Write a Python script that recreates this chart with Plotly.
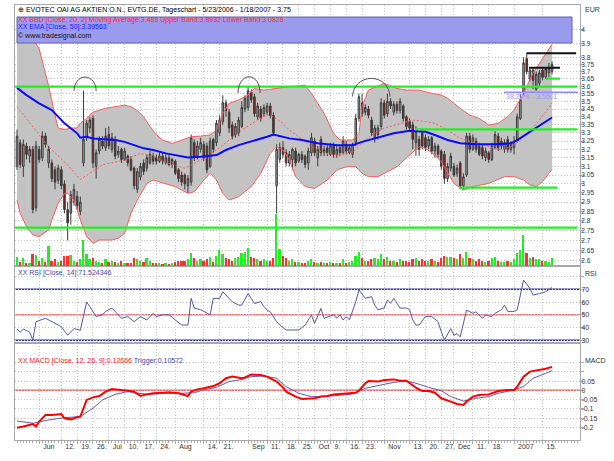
import math
import pandas as pd
import plotly.graph_objects as go

# ---------------- data ----------------
HOLIDAYS = ["2006-12-25", "2006-12-26", "2007-01-01"]
dates = pd.bdate_range("2006-05-23", "2007-01-18", freq="C", holidays=HOLIDAYS)
x_idx = list(range(len(dates)))

open_ = [3.10,3.24,3.10,3.22,3.16,3.20,2.87,3.20,3.15,3.28,
         3.12,3.12,3.08,3.02,3.08,3.00,2.86,2.84,2.90,2.93,
         2.85,3.12,3.27,3.33,3.39,3.10,3.19,3.25,3.21,3.29,
         3.20,3.26,3.17,3.20,3.14,3.16,3.14,3.09,2.97,3.04,
         3.12,3.09,3.12,3.16,3.15,3.13,3.16,3.12,3.15,3.11,
         3.13,3.08,3.05,3.05,2.99,3.01,3.24,3.16,3.20,3.23,
         3.22,3.10,3.26,3.24,3.30,3.37,3.49,3.43,3.35,3.29,
         3.30,3.34,3.45,3.46,3.56,3.53,3.40,3.45,3.42,3.43,
         3.47,3.41,2.99,3.14,3.21,3.18,3.12,3.14,3.19,3.13,
         3.17,3.16,3.12,3.18,3.25,3.15,3.26,3.18,3.21,3.17,
         3.22,3.17,3.21,3.18,3.23,3.18,3.17,3.24,3.39,3.49,
         3.43,3.45,3.38,3.27,3.29,3.34,3.49,3.42,3.50,3.43,
         3.48,3.44,3.47,3.40,3.37,3.35,3.24,3.26,3.30,3.27,
         3.22,3.27,3.19,3.22,3.19,3.17,3.03,3.09,3.10,3.06,
         3.12,2.99,3.05,3.28,3.20,3.25,3.22,3.21,3.15,3.18,
         3.14,3.21,3.28,3.22,3.20,3.26,3.20,3.21,3.25,3.39,
         3.56,3.79,3.65,3.71,3.58,3.62,3.71,3.66,3.69,3.70]
high = [3.32,3.26,3.26,3.24,3.22,3.22,3.25,3.22,3.31,3.30,
        3.22,3.14,3.10,3.11,3.10,3.02,2.90,2.96,3.00,2.96,
        2.93,3.57,3.38,3.40,3.41,3.20,3.28,3.28,3.33,3.34,
        3.30,3.28,3.22,3.21,3.21,3.17,3.16,3.10,3.09,3.12,
        3.14,3.17,3.19,3.18,3.17,3.18,3.18,3.17,3.17,3.15,
        3.14,3.09,3.07,3.06,3.05,3.29,3.26,3.25,3.27,3.25,
        3.24,3.27,3.27,3.38,3.41,3.54,3.51,3.45,3.37,3.36,
        3.40,3.50,3.54,3.60,3.58,3.55,3.49,3.47,3.48,3.49,
        3.49,3.43,3.23,3.24,3.25,3.20,3.19,3.21,3.21,3.18,
        3.19,3.17,3.21,3.30,3.27,3.22,3.28,3.22,3.23,3.24,
        3.24,3.22,3.23,3.28,3.25,3.23,3.24,3.42,3.55,3.55,
        3.48,3.47,3.40,3.35,3.35,3.52,3.51,3.55,3.52,3.50,
        3.50,3.52,3.48,3.41,3.39,3.37,3.34,3.28,3.31,3.29,
        3.28,3.28,3.24,3.23,3.20,3.19,3.12,3.18,3.12,3.11,
        3.13,3.06,3.30,3.30,3.29,3.27,3.24,3.23,3.21,3.19,
        3.24,3.31,3.30,3.27,3.26,3.28,3.25,3.28,3.42,3.55,
        3.80,3.83,3.73,3.73,3.70,3.71,3.73,3.73,3.76,3.77]
low = [3.08,3.09,3.04,3.14,3.12,2.84,2.85,3.12,3.13,3.21,
       3.09,3.01,2.97,3.00,2.97,2.84,2.70,2.78,2.88,2.86,
       2.83,3.10,3.25,3.30,3.09,3.03,3.17,3.20,3.19,3.20,
       3.18,3.14,3.15,3.12,3.13,3.10,3.07,2.97,2.95,3.02,
       3.05,3.07,3.11,3.11,3.11,3.12,3.11,3.11,3.10,3.09,
       3.05,3.01,2.99,2.97,2.95,2.99,3.13,3.14,3.18,3.13,
       3.06,3.09,3.18,3.22,3.28,3.35,3.40,3.30,3.26,3.27,
       3.28,3.33,3.43,3.44,3.49,3.40,3.38,3.37,3.40,3.41,
       3.39,3.28,2.84,3.12,3.15,3.10,3.10,3.08,3.10,3.12,
       3.12,3.09,3.08,3.16,3.16,3.10,3.16,3.16,3.16,3.16,
       3.15,3.15,3.16,3.17,3.17,3.17,3.15,3.22,3.37,3.40,
       3.41,3.39,3.28,3.24,3.26,3.32,3.39,3.40,3.45,3.41,
       3.42,3.42,3.37,3.32,3.31,3.20,3.16,3.16,3.20,3.19,
       3.20,3.17,3.15,3.15,3.08,3.00,3.01,3.07,3.04,3.04,
       2.97,2.97,3.04,3.18,3.19,3.18,3.16,3.14,3.13,3.12,
       3.13,3.20,3.19,3.20,3.18,3.18,3.18,3.17,3.24,3.38,
       3.54,3.68,3.63,3.58,3.57,3.60,3.64,3.65,3.66,3.68]
close = [3.28,3.11,3.23,3.17,3.20,2.86,3.22,3.14,3.28,3.23,
         3.20,3.03,3.01,3.09,2.99,2.86,2.79,2.94,2.97,2.88,
         2.90,3.26,3.36,3.38,3.12,3.18,3.26,3.22,3.28,3.22,
         3.27,3.16,3.19,3.14,3.19,3.12,3.08,2.99,3.07,3.10,
         3.07,3.15,3.17,3.13,3.13,3.16,3.13,3.15,3.11,3.14,
         3.06,3.03,3.01,3.00,3.03,3.27,3.15,3.22,3.24,3.15,
         3.08,3.25,3.20,3.36,3.38,3.49,3.44,3.33,3.28,3.34,
         3.38,3.46,3.52,3.57,3.51,3.42,3.47,3.39,3.46,3.47,
         3.41,3.30,3.20,3.21,3.17,3.12,3.17,3.20,3.12,3.17,
         3.14,3.11,3.19,3.27,3.18,3.20,3.18,3.20,3.18,3.22,
         3.17,3.20,3.18,3.25,3.19,3.21,3.23,3.39,3.53,3.42,
         3.46,3.41,3.30,3.33,3.33,3.49,3.41,3.50,3.47,3.48,
         3.44,3.50,3.39,3.34,3.33,3.26,3.31,3.20,3.22,3.21,
         3.26,3.19,3.22,3.17,3.10,3.03,3.10,3.16,3.05,3.09,
         2.99,3.04,3.28,3.20,3.27,3.20,3.17,3.16,3.19,3.14,
         3.22,3.29,3.21,3.25,3.24,3.20,3.23,3.24,3.40,3.51,
         3.76,3.70,3.71,3.64,3.68,3.69,3.66,3.72,3.72,3.75]
volume = [350,150,300,120,100,450,420,200,300,150,
          750,200,250,150,200,380,400,420,200,150,
          250,1000,450,250,300,200,150,100,250,150,
          200,150,100,200,120,100,120,300,250,200,
          150,300,200,100,100,120,80,100,90,120,
          150,200,180,200,250,500,300,200,250,200,
          280,350,150,400,600,450,300,250,200,300,
          350,500,550,700,350,300,250,200,250,200,
          180,300,2000,650,400,300,200,250,150,150,
          120,130,200,250,150,120,150,100,100,150,
          100,120,100,250,120,150,200,400,550,300,
          200,180,250,300,250,450,250,350,200,200,
          150,250,200,180,150,250,300,200,250,200,
          180,250,200,150,300,400,350,350,300,250,
          450,300,550,300,250,200,250,200,150,200,
          300,350,200,150,150,200,150,250,500,600,
          1200,500,300,350,250,250,200,200,150,300]

# Bollinger band (20, 2) and EMA(50), read at sample days
bb_up_idx = [0,2,5,7,10,12,13,15,17,19,20,22,24,28,31,34,36,38,40,42,44,46,49,52,55,58,61,63,65,67,70,73,75,78,81,84,86,91,93,97,100,102,106,108,109,111,116,120,123,127,129,131,134,136,140,143,146,149,152,155,157,160,163,166,169]
bb_up_val = [4.00,3.97,3.93,3.86,3.60,3.41,3.33,3.32,3.33,3.33,3.36,3.39,3.43,3.455,3.465,3.475,3.465,3.44,3.40,3.34,3.29,3.256,3.235,3.256,3.276,3.28,3.287,3.317,3.42,3.487,3.509,3.541,3.585,3.574,3.585,3.591,3.596,3.607,3.552,3.422,3.297,3.256,3.256,3.297,3.465,3.574,3.619,3.585,3.574,3.574,3.563,3.552,3.541,3.520,3.454,3.411,3.390,3.349,3.359,3.401,3.443,3.552,3.689,3.792,3.893]
bb_lo_idx = [0,1,3,5,7,10,11,13,15,16,18,20,22,24,26,30,32,34,35,36,38,40,41,43,46,50,54,56,59,61,63,65,67,70,74,77,80,82,84,86,88,91,94,98,101,104,107,109,111,114,117,120,124,127,129,132,134,136,138,141,144,149,154,157,160,162,164,166,168,169]
bb_lo_val = [2.911,2.840,2.770,2.728,2.719,2.753,2.805,2.893,2.948,2.948,2.911,2.805,2.719,2.685,2.702,2.702,2.711,2.736,2.788,2.840,2.911,2.975,3.003,3.022,3.005,2.985,2.948,2.957,3.022,3.060,3.022,2.948,2.911,2.929,2.985,3.060,3.176,3.216,3.196,3.137,3.041,2.985,2.975,3.022,3.079,3.098,3.098,3.060,3.041,3.041,3.069,3.098,3.166,3.216,3.206,3.166,3.127,3.060,3.003,2.966,2.985,3.003,3.041,3.041,3.022,2.994,2.985,3.013,3.060,3.083]
bb_mid_idx = [0,10,15,20,23,27,34,39,43,48,53,56,60,63,67,71,76,79,81,84,86,89,93,97,102,106,109,112,116,121,125,129,132,136,140,145,149,153,156,158,162,165,169]
bb_mid_val = [3.465,3.216,3.126,3.026,3.060,3.109,3.137,3.176,3.156,3.117,3.089,3.117,3.156,3.196,3.256,3.317,3.380,3.412,3.401,3.359,3.317,3.276,3.216,3.176,3.166,3.186,3.236,3.287,3.329,3.359,3.380,3.370,3.359,3.317,3.266,3.236,3.216,3.196,3.216,3.246,3.307,3.380,3.488]
ema_idx = [0,3,7,11,15,19,20,22,24,27,31,34,37,40,43,47,54,58,63,66,70,76,79,81,84,86,90,95,101,106,109,113,119,124,129,132,136,140,145,151,156,158,162,165,169]
ema_val = [3.589,3.541,3.487,3.443,3.359,3.297,3.270,3.276,3.266,3.260,3.256,3.245,3.225,3.206,3.196,3.176,3.152,3.156,3.166,3.196,3.225,3.256,3.276,3.290,3.276,3.266,3.256,3.236,3.225,3.225,3.245,3.266,3.297,3.313,3.307,3.287,3.256,3.236,3.230,3.230,3.236,3.256,3.307,3.348,3.396]

# RSI(14)
rsi_idx = [0,1,2,4,5,6,9,11,14,16,18,20,22,23,25,27,28,30,32,33,35,37,39,41,43,44,46,48,50,52,54,55,56,58,59,61,62,64,65,68,70,71,73,75,77,78,79,80,82,83,85,87,89,91,93,94,96,97,100,101,102,103,104,105,106,107,108,110,112,113,114,116,117,118,119,121,123,124,125,126,127,129,131,133,134,135,137,138,139,140,142,144,145,147,148,150,151,153,154,155,157,158,159,160,162,163,165,167,169]
rsi_val = [38.9,36.3,38.9,36.3,30.3,44.6,47.3,44.6,40.7,34.0,39.2,37.9,60.1,56.4,48.6,50.0,52.7,55.3,50.0,47.3,48.6,44.6,48.6,46.0,51.2,48.6,50.0,50.0,46.0,42.0,42.0,62.9,55.3,54.0,52.7,50.0,62.9,62.9,68.1,60.3,57.6,57.6,66.7,58.9,60.3,56.4,53.7,52.4,44.6,42.0,38.1,38.1,38.1,42.0,49.8,43.3,55.0,47.3,50.0,47.3,50.0,46.0,48.6,46.0,52.7,60.3,69.5,63.0,64.2,57.6,54.0,55.3,61.7,59.0,62.9,55.3,55.3,54.0,46.0,42.0,42.0,48.6,48.6,44.6,36.8,30.3,39.2,34.0,35.3,32.7,53.7,51.2,52.4,47.3,50.0,48.6,51.2,54.0,57.6,52.7,52.7,54.0,65.5,77.3,70.8,65.5,66.7,68.1,71.5]

# MACD(12, 26, 9)
macd_idx = [0,2,5,6,7,9,11,14,15,17,19,20,22,24,26,28,30,32,35,37,39,41,43,46,48,51,53,54,55,57,59,62,64,66,68,71,72,74,77,79,82,84,85,88,90,92,94,96,98,100,103,105,107,108,110,111,114,116,119,121,123,124,126,128,130,132,134,137,139,141,142,144,146,149,150,152,155,157,158,160,162,165,167,169]
macd_val = [-0.202,-0.196,-0.182,-0.196,-0.169,-0.133,-0.133,-0.128,-0.151,-0.157,-0.146,-0.142,-0.052,-0.038,-0.031,-0.007,0.007,0.005,-0.002,-0.007,-0.031,-0.022,-0.016,-0.013,-0.011,-0.016,-0.025,-0.031,-0.007,0.005,0.011,0.023,0.038,0.065,0.074,0.065,0.070,0.085,0.083,0.074,0.047,0.016,-0.007,-0.034,-0.047,-0.045,-0.043,-0.034,-0.031,-0.022,-0.020,-0.016,-0.013,-0.002,0.038,0.050,0.047,0.056,0.059,0.052,0.052,0.038,0.014,-0.004,-0.004,-0.013,-0.043,-0.061,-0.074,-0.079,-0.061,-0.034,-0.025,-0.022,-0.016,-0.004,0.002,0.002,0.020,0.074,0.101,0.110,0.117,0.1267]
trig_idx = [0,5,10,15,20,24,27,31,35,38,42,47,52,56,59,63,67,71,74,78,82,85,89,93,97,102,106,110,114,119,123,126,130,134,137,141,145,149,152,156,160,163,167,169]
trig_val = [-0.166,-0.178,-0.160,-0.148,-0.142,-0.097,-0.052,-0.022,-0.007,-0.016,-0.022,-0.016,-0.016,-0.013,0.002,0.016,0.047,0.059,0.074,0.077,0.065,0.020,-0.016,-0.034,-0.034,-0.027,-0.020,0.011,0.025,0.043,0.050,0.038,0.016,-0.002,-0.034,-0.058,-0.043,-0.034,-0.016,-0.002,0.020,0.065,0.092,0.1057]

# drawn levels: (from day, to day, price, kind)
levels = [(-0.6, 177.0, 3.597, "green"), (-0.6, 177.0, 2.765, "green"),
          (125.7, 177.0, 3.322, "green"), (139.6, 170.6, 2.979, "green"),
          (167.0, 171.5, 3.651, "green"), (161.0, 176.6, 3.828, "black"),
          (161.7, 171.5, 3.726, "black"), (153.8, 177.2, 3.5601, "fib")]
# hand-drawn arcs: (left day, right day, base price, top price)
arcs = [(18.0, 25.0, 3.569, 3.662), (69.8, 76.8, 3.555, 3.664), (106.0, 117.8, 3.531, 3.653)]

tick_dates = ["2006-06-01","2006-06-12","2006-06-19","2006-06-26","2006-07-03","2006-07-10",
              "2006-07-17","2006-07-24","2006-08-01","2006-08-14","2006-08-21","2006-09-01",
              "2006-09-11","2006-09-18","2006-09-25","2006-10-02","2006-10-09","2006-10-16",
              "2006-10-23","2006-11-01","2006-11-13","2006-11-20","2006-11-27","2006-12-01",
              "2006-12-11","2006-12-18","2007-01-02","2007-01-15"]
tick_text = ["Jun","12.","19.","26.","Jul","10.","17.","24.","Aug","14.","21.","Sep",
             "11.","18.","25.","Oct","9.","16.","23.","Nov","13.","20.","27.","Dec",
             "11.","18.","2007","15."]
price_labels = ["2.6","2.65","2.7","2.75","2.8","2.85","2.9","2.95","3","3.05","3.1","3.15",
                "3.2","3.25","3.3","3.35","3.4","3.45","3.5","3.55","3.6","3.65","3.7","3.75",
                "3.8","3.9","4"]
rsi_labels = ["30","40","50","60","70"]
macd_labels = ["-0.2","-0.15","-0.1","-0.05","0","0.05"]

# ---------------- layout geometry ----------------
W, H = 614, 461
ML, MR, MT, MB = 15, 34, 5, 21
PW, PH = W - ML - MR, H - MT - MB
def pxx(p):
    return (p - ML) / PW
def pyy(p):
    return (H - MB - p) / PH

DAY_PX = 3.166
x0 = -(17 - ML) / DAY_PX
x1 = x0 + PW / DAY_PX
tickvals = [dates.get_loc(pd.Timestamp(d)) for d in tick_dates]
PRICE_RANGE = [math.log10(2.5741), math.log10(4.1888)]

FONT = "Liberation Sans, Arial, sans-serif"
FS = 7.0
GRID = "#c4c4c4"
AXL = "#a8a8a8"

fig = go.Figure()

# Bollinger fill on the base price axis (drawn first, under everything)
fig.add_trace(go.Scatter(x=bb_up_idx, y=bb_up_val, mode="lines", line=dict(width=0),
                         xaxis="x3", yaxis="y", hoverinfo="skip"))
fig.add_trace(go.Scatter(x=bb_lo_idx, y=bb_lo_val, mode="lines", line=dict(width=0),
                         fill="tonexty", fillcolor="#c3c3c3", xaxis="x3", yaxis="y", hoverinfo="skip"))
# volume (overlay axis)
vol_colors = ["#22ee22" if c >= o else "#ff3030" for o, c in zip(open_, close)]
fig.add_trace(go.Bar(x=x_idx, y=volume, marker=dict(color=vol_colors, line=dict(width=0)),
                     width=0.55, xaxis="x3", yaxis="y4", hoverinfo="skip"))
# candles and lines on an overlay price axis, so they sit above the band fill
fig.add_trace(go.Candlestick(x=x_idx, open=open_, high=high, low=low, close=close,
                             xaxis="x3", yaxis="y5", whiskerwidth=0,
                             increasing=dict(line=dict(color="#3c3c3c", width=1), fillcolor="#a6a6a6"),
                             decreasing=dict(line=dict(color="#3c3c3c", width=1), fillcolor="#8a1616"),
                             hoverinfo="skip"))
fig.add_trace(go.Scatter(x=bb_up_idx, y=bb_up_val, mode="lines", line=dict(color="#ff5a5a", width=1),
                         xaxis="x3", yaxis="y5", hoverinfo="skip"))
fig.add_trace(go.Scatter(x=bb_lo_idx, y=bb_lo_val, mode="lines", line=dict(color="#ff5a5a", width=1),
                         xaxis="x3", yaxis="y5", hoverinfo="skip"))
fig.add_trace(go.Scatter(x=bb_mid_idx, y=bb_mid_val, mode="lines",
                         line=dict(color="#ff5a5a", width=1, dash="2px,2px"),
                         xaxis="x3", yaxis="y5", hoverinfo="skip"))
fig.add_trace(go.Scatter(x=ema_idx, y=ema_val, mode="lines", line=dict(color="#0a0aff", width=2),
                         xaxis="x3", yaxis="y5", hoverinfo="skip"))
# RSI
fig.add_trace(go.Scatter(x=rsi_idx, y=rsi_val, mode="lines", line=dict(color="#5656a6", width=1),
                         xaxis="x2", yaxis="y2", hoverinfo="skip"))
# MACD
fig.add_trace(go.Scatter(x=trig_idx, y=trig_val, mode="lines", line=dict(color="#5c5ca8", width=1),
                         xaxis="x", yaxis="y3", hoverinfo="skip"))
fig.add_trace(go.Scatter(x=macd_idx, y=macd_val, mode="lines", line=dict(color="#ff0000", width=2),
                         xaxis="x", yaxis="y3", hoverinfo="skip"))

shapes = []
for val, col in [(70, "#3a3a90"), (30, "#3a3a90"), (50, "#ff7070")]:
    shapes.append(dict(type="line", xref="x2 domain", yref="y2", x0=0, x1=1, y0=val, y1=val,
                       line=dict(color=col, width=1.5), layer="below"))
shapes.append(dict(type="line", xref="x domain", yref="y3", x0=0, x1=1, y0=0, y1=0,
                   line=dict(color="#ff6060", width=1.5), layer="below"))
kind_style = {"green": dict(color="#22ee22", width=2.2), "black": dict(color="#111111", width=2),
              "fib": dict(color="#8c8cff", width=1.5)}
for a, b, p, k in levels:
    shapes.append(dict(type="line", xref="x3", yref="y", x0=a, x1=b, y0=p, y1=p,
                       line=kind_style[k], layer="above"))
K = 0.5523
for l, r, base, top in arcs:
    lb, lt = math.log10(base), math.log10(top)
    cx, rx = (l + r) / 2, (r - l) / 2
    ym = 10 ** (lb + K * (lt - lb))
    path = (f"M {l},{base} C {l},{ym} {cx - K * rx},{top} {cx},{top} "
            f"C {cx + K * rx},{top} {r},{ym} {r},{base}")
    shapes.append(dict(type="path", xref="x3", yref="y", path=path,
                       line=dict(color="#505050", width=1), layer="above"))
shapes.append(dict(type="rect", xref="paper", yref="paper", x0=pxx(17), x1=pxx(572),
                   y0=pyy(43), y1=pyy(17), fillcolor="#9b9bee", line=dict(color="#6262aa", width=1),
                   layer="above"))

def note(xp, yp, text, color, size=FS, anchor="left"):
    return dict(xref="paper", yref="paper", x=pxx(xp), y=pyy(yp), text=text, showarrow=False,
                xanchor=anchor, yanchor="middle", font=dict(family=FONT, size=size, color=color))

annotations = [
    note(16, 9.5, "⊕ EVOTEC OAI AG AKTIEN O.N., EVTG.DE, Tageschart - 5/23/2006 - 1/18/2007 - 3.75", "#000000", 7.0),
    note(16, 19.8, "XX BBD [Close, 20, 2] Moving Average:3.488 Upper Band:3.8932 Lower Band:3.0828", "#ff2a2a"),
    note(16, 27.3, "XX EMA [Close, 50]:3.39563", "#1a1aff"),
    note(16, 35.6, "© www.tradesignal.com", "#101010"),
    note(16, 272.5, "XX RSI [Close, 14]:71.524346", "#44449a"),
    note(16, 361, "<span style='color:#ff2020'>XX MACD [Close, 12, 26, 9]:0.12666</span> "
                  "<span style='color:#44449a'>Trigger:0.10572</span>", "#ff2020"),
    note(583, 10, "EUR", "#333333"),
    note(583, 273, "RSI", "#333333"),
    note(583, 360, "MACD", "#333333"),
    dict(xref="x3", yref="y", x=153.8, y=math.log10(3.532), text="38.20% - 3.5601", showarrow=False,
         xanchor="left", yanchor="middle", font=dict(family=FONT, size=FS, color="#9a9aff")),
]

axis_font = dict(family=FONT, size=FS, color="#333333")
price_font = dict(family=FONT, size=6.6, color="#333333")
common_x = dict(range=[x0, x1], tickvals=tickvals, ticktext=tick_text, showgrid=True,
                gridcolor=GRID, griddash="1px,2px", gridwidth=1, zeroline=False,
                showline=True, linecolor=AXL, mirror=True, rangeslider=dict(visible=False))
common_y = dict(ticks="outside", ticklen=3, tickcolor=AXL, ticklabelstandoff=-4,
                showgrid=True, gridcolor=GRID, griddash="1px,2px", zeroline=False,
                showline=True, linecolor=AXL, mirror=True, side="right")
fig.update_layout(
    width=W, height=H, margin=dict(l=ML, r=MR, t=MT, b=MB, autoexpand=False),
    paper_bgcolor="white", plot_bgcolor="white", showlegend=False, hovermode=False,
    bargap=0,
    xaxis=dict(common_x, domain=[0, 1], anchor="y3", tickfont=axis_font, ticks="outside",
               ticklen=3, tickcolor=AXL, ticklabelposition="outside right", tickangle=0,
               ticklabelshift=3,
               minor=dict(dtick=1, tick0=0, ticks="outside", ticklen=2, tickcolor=AXL, showgrid=False)),
    xaxis2=dict(common_x, matches="x", anchor="y2", showticklabels=False),
    xaxis3=dict(common_x, matches="x", anchor="y", showticklabels=False),
    yaxis=dict(common_y, domain=[pyy(266), 1], type="log", anchor="x3", range=PRICE_RANGE,
               tickvals=[float(s) for s in price_labels], ticktext=price_labels, tickfont=price_font),
    yaxis4=dict(overlaying="y", anchor="x3", range=[0, 10000], visible=False),
    yaxis5=dict(overlaying="y", anchor="x3", type="log", range=PRICE_RANGE, visible=False),
    yaxis2=dict(common_y, domain=[pyy(343), pyy(266)], anchor="x2", range=[27.9, 88.3],
                tickvals=[float(s) for s in rsi_labels] + [80.0], ticktext=rsi_labels + [""],
                tickfont=axis_font),
    yaxis3=dict(common_y, domain=[0, pyy(343)], anchor="x", range=[-0.2686, 0.2557],
                tickvals=[float(s) for s in macd_labels] + [0.1, 0.15], ticktext=macd_labels + ["", ""],
                tickfont=axis_font),
    shapes=shapes, annotations=annotations,
)

fig.write_html("out.html", config={"displayModeBar": False},
               post_script="document.body.style.margin='0px';")
